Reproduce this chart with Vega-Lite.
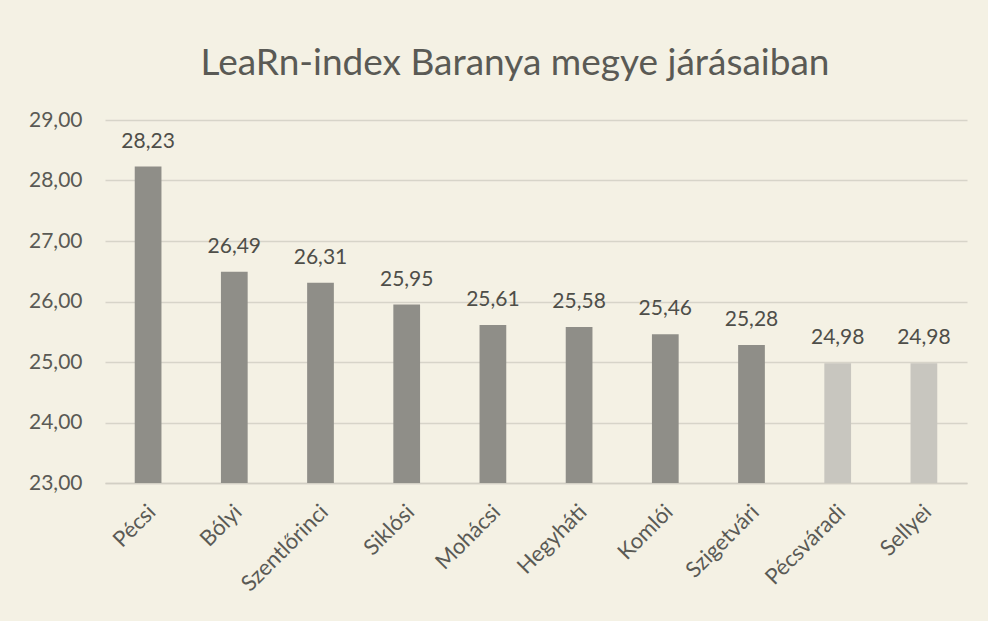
{
  "$schema": "https://vega.github.io/schema/vega-lite/v6.json",
  "autosize": "none",
  "width": 862,
  "height": 363,
  "padding": {"left": 105, "top": 120, "right": 21, "bottom": 138},
  "background": "#f4f1e4",
  "title": {
    "text": "LeaRn-index Baranya megye járásaiban",
    "font": "Lato",
    "fontSize": 37,
    "fontWeight": "normal",
    "color": "#5a5a55",
    "anchor": "middle",
    "dx": -21,
    "offset": 26
  },
  "data": {
    "values": [
      {"jaras": "Pécsi", "index": 28.23},
      {"jaras": "Bólyi", "index": 26.49},
      {"jaras": "Szentlőrinci", "index": 26.31},
      {"jaras": "Siklósi", "index": 25.95},
      {"jaras": "Mohácsi", "index": 25.61},
      {"jaras": "Hegyháti", "index": 25.58},
      {"jaras": "Komlói", "index": 25.46},
      {"jaras": "Szigetvári", "index": 25.28},
      {"jaras": "Pécsváradi", "index": 24.98},
      {"jaras": "Sellyei", "index": 24.98}
    ]
  },
  "encoding": {
    "x": {
      "field": "jaras",
      "type": "nominal",
      "sort": null,
      "scale": {"paddingInner": 0.69, "paddingOuter": 0.345},
      "axis": {
        "title": null,
        "labelAngle": -45,
        "labelAlign": "right",
        "labelBaseline": "middle",
        "labelPadding": 25,
        "labelOffset": 4,
        "labelOverlap": false,
        "labelFont": "Lato",
        "labelFontSize": 22,
        "labelColor": "#5a5a55",
        "ticks": false,
        "domain": true,
        "domainColor": "#d2cfc4",
        "domainWidth": 1.5
      }
    },
    "y": {
      "field": "index",
      "type": "quantitative",
      "scale": {"domain": [23, 29], "nice": false, "zero": false},
      "axis": {
        "title": null,
        "values": [23, 24, 25, 26, 27, 28, 29],
        "format": ".2f",
        "labelOverlap": false,
        "labelFont": "Lato",
        "labelFontSize": 21,
        "labelColor": "#5a5a55",
        "labelPadding": 23,
        "ticks": false,
        "domain": false,
        "grid": true,
        "gridColor": "#d7d4c9",
        "gridWidth": 1.5
      }
    }
  },
  "layer": [
    {
      "mark": {"type": "bar"},
      "encoding": {
        "y2": {"datum": 23},
        "color": {
          "condition": {"test": "datum.index < 25", "value": "#c8c6bf"},
          "value": "#8f8e88"
        }
      }
    },
    {
      "mark": {
        "type": "text",
        "baseline": "alphabetic",
        "dy": -19,
        "font": "Lato",
        "fontSize": 21,
        "color": "#4e4e49"
      },
      "encoding": {
        "text": {"field": "index", "type": "quantitative", "format": ".2f"}
      }
    }
  ],
  "config": {
    "view": {"stroke": null},
    "locale": {
      "number": {
        "decimal": ",",
        "thousands": " ",
        "grouping": [3],
        "currency": ["", " Ft"]
      }
    }
  }
}
